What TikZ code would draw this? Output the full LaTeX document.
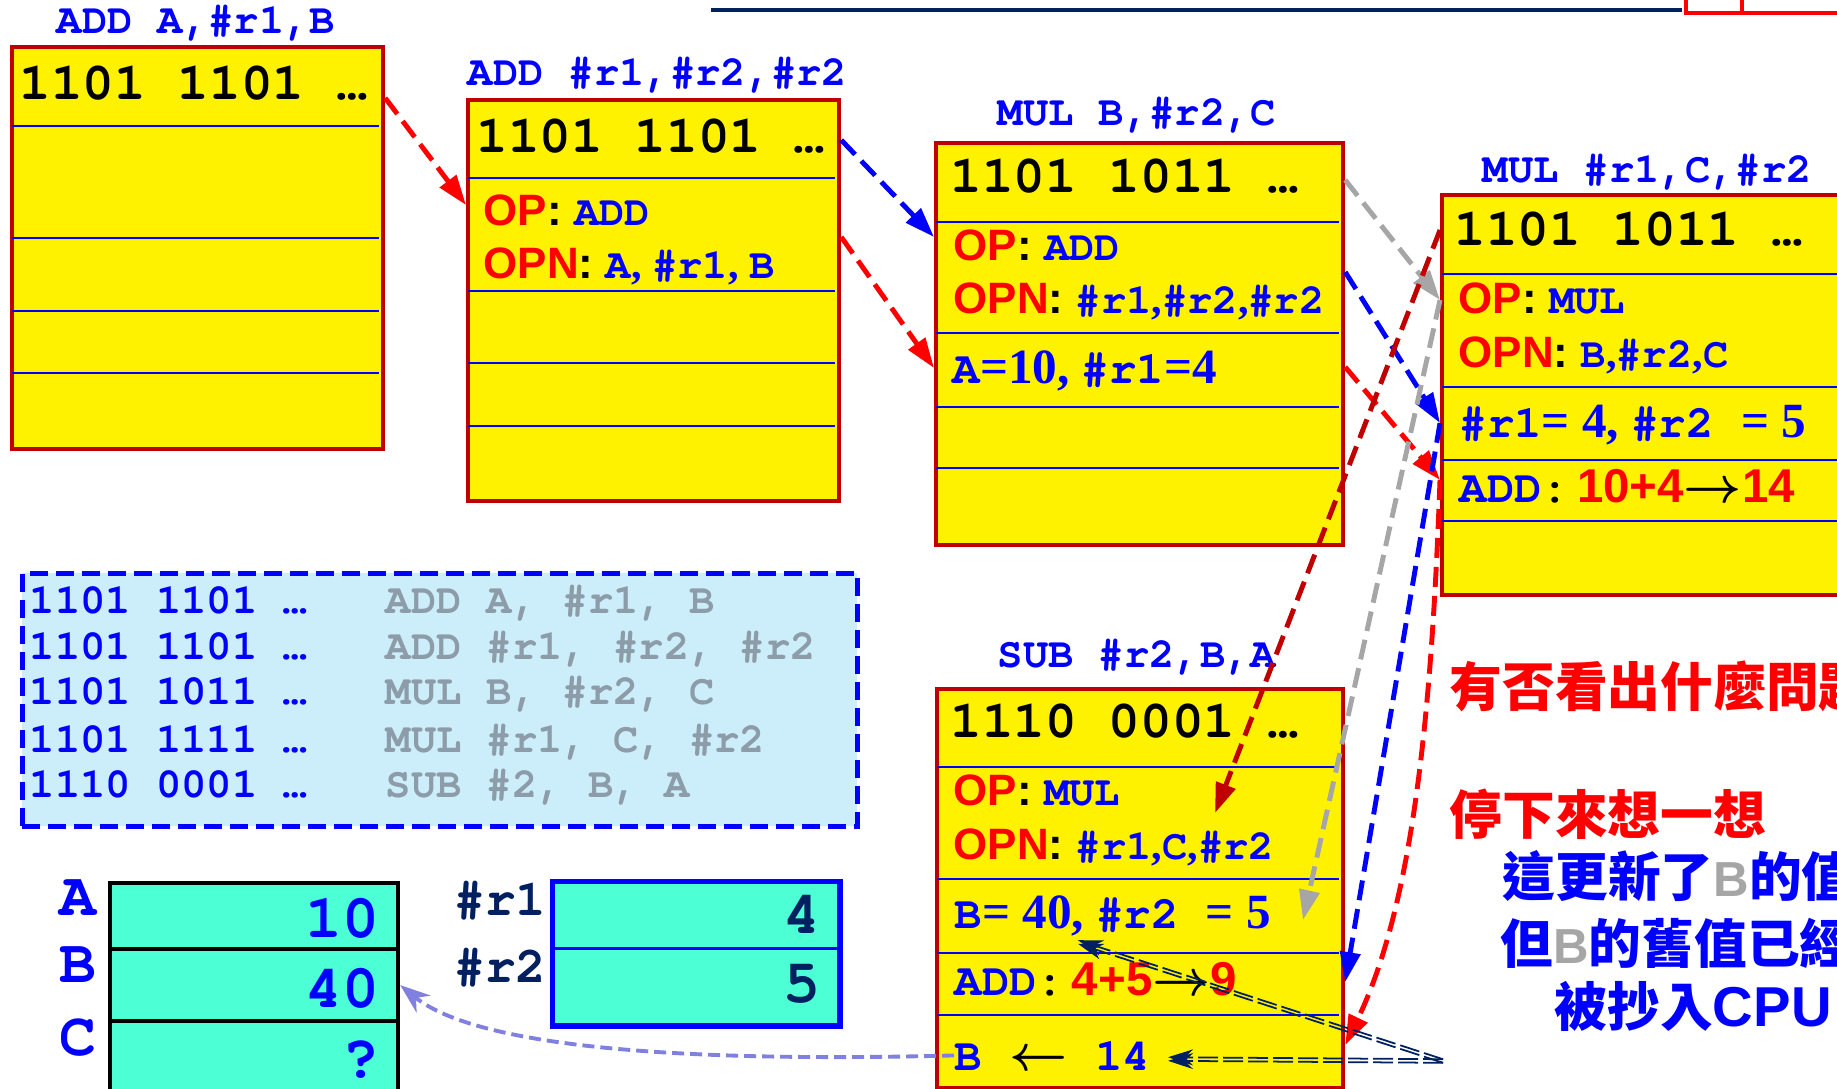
\documentclass[tikz,border=0pt]{standalone}
\usepackage{amsmath}
\usepackage{bm}
\usepackage{fontspec}
\setmainfont{Liberation Serif}
\setsansfont{Liberation Sans}
\setmonofont{texgyrecursor}[Extension=.otf, UprightFont=*-regular, BoldFont=*-bold,
  ItalicFont=*-italic, BoldItalicFont=*-bolditalic]
\newfontfamily\cjk{Noto Sans CJK TC}
\usetikzlibrary{arrows.meta}

% colours
\definecolor{boxred}{RGB}{192,0,0}
\definecolor{navy}{RGB}{0,32,96}
\definecolor{listbg}{RGB}{204,238,250}
\definecolor{asmgray}{RGB}{140,156,168}
\definecolor{cellgreen}{RGB}{77,255,212}
\definecolor{lav}{RGB}{128,128,224}
\definecolor{softgray}{RGB}{166,166,166}

% helpers for the mixed-font field texts
\newcommand\fsz[1]{\fontsize{#1}{#1}\selectfont}
\newcommand\opkey[1]{{\sffamily\bfseries\fsz{12.5}\textcolor{red}{#1}\textcolor{black}{:} }}
\newcommand\opc{{\rmfamily\bfseries,}}
\newcommand\opcs{{\rmfamily\bfseries, }}
\newcommand\nums{\rmfamily\bfseries\fsz{14}}
\newcommand\redn{\sffamily\bfseries\fsz{13.5}\color{red}}
\newcommand\blk{\color{black}}
\newcommand\toarrow{{\blk\fsz{14}$\bm{\rightarrow}$}}
\newcommand\fromarrow{{\blk\fsz{14}$\bm{\leftarrow}$}}

\begin{document}
\begin{tikzpicture}[
    instr/.style={draw=boxred, line width=1.2pt, fill=yellow, anchor=north west, inner sep=0},
    rowline/.style={blue, line width=0.7pt},
    bits/.style={anchor=base west, inner sep=0, font=\ttfamily\bfseries\fsz{15}},
    mnem/.style={anchor=base west, inner sep=0, text=blue, font=\ttfamily\bfseries\fsz{12}},
    result/.style={anchor=base west, inner sep=0, text=blue, font=\ttfamily\bfseries\fsz{13}},
    note/.style={anchor=base west, inner sep=0, font=\cjk\bfseries\fsz{15}},
    cell/.style={draw=black, line width=1.2pt, fill=cellgreen, anchor=north west, inner sep=0},
    reg/.style={draw=blue, line width=0.9pt, fill=cellgreen, anchor=north west, inner sep=0},
    big/.style={inner sep=0, font=\ttfamily\bfseries\fsz{17.5}},
    flow/.style={line width=1.4pt, dash pattern=on 0.2cm off 0.09cm, -{Triangle[length=0.3cm,width=0.2cm]}},
    fwd/.style={navy, line width=0.5pt, dash pattern=on 0.2cm off 0.05cm, -{Stealth[length=0.25cm,width=0.16cm]}},
  ]
  \useasboundingbox (0,0) rectangle (18.37,-10.88);
  \clip (0,0) rectangle (18.37,-10.88);
  \fill[white] (0,0) rectangle (18.37,-10.88);

  % title rule
  \draw[navy, line width=1.4pt] (7.11,-0.10) -- (16.82,-0.10);
  \draw[red, line width=1.4pt] (16.86,0.05) -- (16.86,-0.13) -- (18.5,-0.13);
  \draw[red, line width=1.4pt] (17.42,0.05) -- (17.42,-0.13);

  % pipeline stages
  \node[instr, minimum width=3.71cm, minimum height=4.02cm] (ins1) at (0.10,-0.45) {};
  \foreach \y in {1.26,2.38,3.11,3.73} \draw[rowline] (0.12,-\y) -- (3.79,-\y);
  \node[instr, minimum width=3.71cm, minimum height=4.01cm] (ins2) at (4.66,-0.98) {};
  \foreach \y in {1.78,2.91,3.63,4.26} \draw[rowline] (4.68,-\y) -- (8.35,-\y);
  \node[instr, minimum width=4.07cm, minimum height=4.02cm] (ins3) at (9.34,-1.41) {};
  \foreach \y in {2.22,3.33,4.07,4.68} \draw[rowline] (9.36,-\y) -- (13.39,-\y);
  \node[instr, minimum width=4.40cm, minimum height=4.00cm] (ins4) at (14.40,-1.93) {};
  \foreach \y in {2.74,3.87,4.60,5.21} \draw[rowline] (14.42,-\y) -- (18.5,-\y);
  \node[instr, minimum width=4.06cm, minimum height=3.99cm] (ins5) at (9.35,-6.87) {};
  \foreach \y in {7.67,8.79,9.53,10.15} \draw[rowline] (9.37,-\y) -- (13.39,-\y);

  % mnemonics above the stages
  \node[mnem] (m1) at (0.56,-0.33) {ADD A,\#r1,B};
  \node[mnem] (m2) at (4.67,-0.85) {ADD \#r1,\#r2,\#r2};
  \node[mnem] (m3) at (9.97,-1.25) {MUL B,\#r2,C};
  \node[mnem] (m4) at (14.82,-1.82) {MUL \#r1,C,\#r2};
  \node[mnem] (m5) at (9.97,-6.67) {SUB \#r2,B,A};

  % fetched bits
  \node[bits] (b1) at (0.19,-0.99) {1101 1101 …};
  \node[bits] (b2) at (4.76,-1.52) {1101 1101 …};
  \node[bits] (b3) at (9.50,-1.92) {1101 1011 …};
  \node[bits] (b4) at (14.54,-2.45) {1101 1011 …};
  \node[bits] (b5) at (9.50,-7.37) {1110 0001 …};

  % decoded fields
  \node[mnem] (op2) at (4.83,-2.25) {\opkey{OP}ADD};
  \node[mnem] (opn2) at (4.83,-2.78) {\opkey{OPN}A\opcs\#r1\opcs B};
  \node[mnem] (op3) at (9.53,-2.60) {\opkey{OP}ADD};
  \node[mnem] (opn3) at (9.53,-3.13) {\opkey{OPN}\#r1\opc\#r2\opc\#r2};
  \node[result] (v3) at (9.52,-3.83) {A{\nums=10, }\#r1{\nums=4}};
  \node[mnem] (op4) at (14.58,-3.13) {\opkey{OP}MUL};
  \node[mnem] (opn4) at (14.58,-3.67) {\opkey{OPN}B\opc\#r2\opc C};
  \node[result] (v4) at (14.59,-4.37) {\#r1{\nums= 4, }\#r2 {\nums= 5}};
  \node[result] (add4) at (14.59,-5.02) {ADD{\blk:}\,{\redn 10+4}\toarrow{\redn 14}};
  \node[mnem] (op5) at (9.53,-8.05) {\opkey{OP}MUL};
  \node[mnem] (opn5) at (9.53,-8.59) {\opkey{OPN}\#r1\opc C\opc\#r2};
  \node[result] (v5) at (9.54,-9.28) {B{\nums= 40, }\#r2 {\nums= 5}};
  \node[result] (add5) at (9.54,-9.95) {ADD{\blk:}\,{\redn 4+5}\toarrow{\redn 9}};
  \node[result] (wb5) at (9.54,-10.70) {B \fromarrow{} 14};

  % program listing
  \node[draw=blue, fill=listbg, line width=1.4pt, dash pattern=on 0.18cm off 0.08cm,
        anchor=north west, minimum width=8.35cm, minimum height=2.53cm] (lst) at (0.20,-5.71) {};
  \node[mnem] (c1) at (0.29,-6.13) {1101 1101 …};
  \node[mnem] (c2) at (0.29,-6.59) {1101 1101 …};
  \node[mnem] (c3) at (0.29,-7.04) {1101 1011 …};
  \node[mnem] (c4) at (0.29,-7.52) {1101 1111 …};
  \node[mnem] (c5) at (0.29,-7.97) {1110 0001 …};
  \node[mnem, text=asmgray] (a1) at (3.85,-6.13) {ADD A, \#r1, B};
  \node[mnem, text=asmgray] (a2) at (3.85,-6.59) {ADD \#r1, \#r2, \#r2};
  \node[mnem, text=asmgray] (a3) at (3.85,-7.04) {MUL B, \#r2, C};
  \node[mnem, text=asmgray] (a4) at (3.85,-7.52) {MUL \#r1, C, \#r2};
  \node[mnem, text=asmgray] (a5) at (3.85,-7.97) {SUB \#2, B, A};

  % memory
  \node[cell, minimum width=2.88cm, minimum height=0.66cm] (memA) at (1.08,-8.81) {};
  \node[cell, minimum width=2.88cm, minimum height=0.72cm] (memB) at (1.08,-9.47) {};
  \node[cell, minimum width=2.88cm, minimum height=0.90cm] (memC) at (1.08,-10.19) {};
  \node[big, text=blue, anchor=base] (lA) at (0.78,-9.15) {A};
  \node[big, text=blue, anchor=base] (lB) at (0.78,-9.82) {B};
  \node[big, text=blue, anchor=base] (lC) at (0.78,-10.55) {C};
  \node[big, text=blue, anchor=base east] (vA) at (3.80,-9.37) {10};
  \node[big, text=blue, anchor=base east] (vB) at (3.80,-10.07) {40};
  \node[big, text=blue, anchor=base east] (vC) at (3.80,-10.77) {?};

  % registers
  \node[reg, minimum width=2.85cm, minimum height=0.66cm] (regA) at (5.52,-8.81) {};
  \node[reg, minimum width=2.85cm, minimum height=0.76cm] (regB) at (5.52,-9.47) {};
  \draw[blue, line width=1.4pt] (regA.north west) rectangle (regB.south east);
  \node[inner sep=0, anchor=base east, text=navy, font=\ttfamily\bfseries\fsz{14.5}] (lr1) at (5.47,-9.15) {\#r1};
  \node[inner sep=0, anchor=base east, text=navy, font=\ttfamily\bfseries\fsz{14.5}] (lr2) at (5.47,-9.82) {\#r2};
  \node[big, text=navy, anchor=base east] (vr1) at (8.21,-9.33) {4};
  \node[big, text=navy, anchor=base east] (vr2) at (8.21,-10.02) {5};

  % remarks
  \node[note, text=red] (q1) at (14.49,-7.06) {有否看出什麼問題};
  \node[note, text=red] (q2) at (14.49,-8.34) {停下來想一想};
  \node[note, text=blue] (q3) at (15.02,-8.96) {這更新了{\sffamily\bfseries\fsz{14}\color{softgray}B}的值};
  \node[note, text=blue] (q4) at (15.00,-9.63) {但{\sffamily\bfseries\fsz{14}\color{softgray}B}的舊值已經};
  \node[note, text=blue] (q5) at (15.54,-10.26) {被抄入{\sffamily\bfseries\fsz{16}CPU}};

  % where values travel
  \coordinate (hitop) at (12.15,-8.13);
  \coordinate (hitb) at (13.03,-9.20);
  \coordinate (dsrc) at (14.43,-10.61);
  \coordinate (hitwb) at (11.68,-10.59);
  \coordinate (hitv) at (10.78,-9.42);

  \draw[flow, red] (ins1.east |- 0,-0.98) -- (ins2.west |- 0,-2.05);
  \draw[flow, blue] (ins2.east |- 0,-1.40) -- (ins3.west |- 0,-2.37);
  \draw[flow, red] (ins2.east |- 0,-2.37) -- (ins3.west |- 0,-3.68);
  \draw[flow, softgray] (ins3.east |- 0,-1.80) -- (ins4.west |- 0,-3.00);
  \draw[flow, blue] (ins3.east |- 0,-2.72) -- (ins4.west |- 0,-4.23);
  \draw[flow, red] (ins3.east |- 0,-3.67) -- (ins4.west |- 0,-4.80);
  \draw[flow, boxred] (ins4.west |- 0,-2.30) -- (hitop);
  \draw[flow, softgray] (ins4.west |- 0,-3.00) -- (hitb);
  \draw[flow, blue] (ins4.west |- 0,-4.23) -- (ins5.east |- 0,-9.82);
  \draw[flow, red] (ins4.west |- 0,-4.80) .. controls (14.32,-7.00) and (14.15,-9.00) .. (ins5.east |- 0,-10.45);

  % forwarding of the new B
  \draw[fwd, transform canvas={yshift=0.018cm}] (dsrc) -- (hitwb);
  \draw[fwd, transform canvas={yshift=-0.018cm}] (dsrc) -- (hitwb);
  \draw[fwd, transform canvas={yshift=0.018cm}] (dsrc) -- (hitv);
  \draw[fwd, transform canvas={yshift=-0.018cm}] (dsrc) -- (hitv);

  % write back to memory
  \draw[lav, line width=1.1pt, dash pattern=on 0.12cm off 0.06cm, -{Stealth[length=0.3cm,width=0.22cm]}]
    (wb5.west) .. controls (7.00,-10.62) and (4.80,-10.50) .. (memB.east);
\end{tikzpicture}
\end{document}
